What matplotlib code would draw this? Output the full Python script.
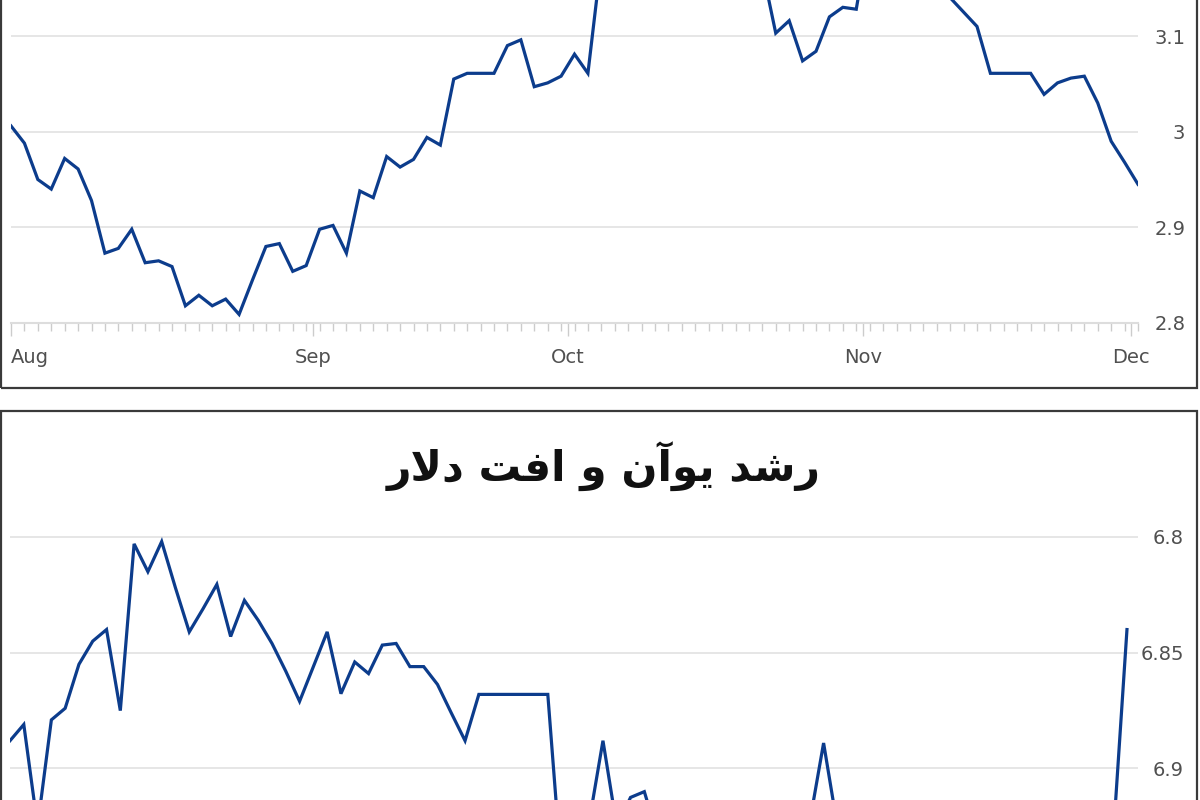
import matplotlib
matplotlib.use("Agg")
import matplotlib.pyplot as plt
from matplotlib.patches import Rectangle

# top chart: daily values from Aug 1 (one per trading day)
yield_vals = [3.006, 2.988, 2.950, 2.940, 2.972, 2.961, 2.928, 2.873, 2.878, 2.898,
              2.863, 2.865, 2.859, 2.818, 2.829, 2.818, 2.825, 2.809, 2.845, 2.880,
              2.883, 2.854, 2.860, 2.898, 2.902, 2.873, 2.938, 2.931, 2.974, 2.963,
              2.971, 2.994, 2.986, 3.055, 3.061, 3.061, 3.061, 3.090, 3.096, 3.047,
              3.051, 3.058, 3.081, 3.061, 3.180, 3.190, 3.230, 3.210, 3.220, 3.160,
              3.160, 3.170, 3.160, 3.190, 3.180, 3.200, 3.170, 3.103, 3.116, 3.074,
              3.084, 3.120, 3.130, 3.128, 3.210, 3.200, 3.210, 3.230, 3.240, 3.190,
              3.140, 3.125, 3.110, 3.061, 3.061, 3.061, 3.061, 3.039, 3.051, 3.056,
              3.058, 3.030, 2.990, 2.968, 2.945]
month_names = ["Aug", "Sep", "Oct", "Nov", "Dec"]
month_pos = [0, 22.5, 41.5, 63.5, 83.5]
yield_ticks = [2.8, 2.9, 3.0, 3.1]
yield_labels = ["2.8", "2.9", "3", "3.1"]

# bottom chart: dollar / yuan, axis reversed
yuan_vals = [6.888, 6.881, 6.925, 6.879, 6.874, 6.855, 6.845, 6.840, 6.875, 6.803,
             6.815, 6.802, 6.822, 6.841, 6.831, 6.8205, 6.843, 6.8274, 6.836, 6.846,
             6.858, 6.871, 6.856, 6.841, 6.8677, 6.854, 6.859, 6.8467, 6.846, 6.856,
             6.856, 6.8637, 6.876, 6.888, 6.868, 6.868, 6.868, 6.868, 6.868, 6.868,
             6.945, 6.940, 6.923, 6.888, 6.925, 6.9125, 6.910, 6.930, 6.935, 6.940,
             6.930, 6.935, 6.945, 6.950, 6.940, 6.935, 6.940, 6.930, 6.923, 6.889,
             6.925, 6.935, 6.940, 6.950, 6.955, 6.960, 6.955, 6.945, 6.950, 6.960,
             6.965, 6.955, 6.950, 6.945, 6.950, 6.955, 6.960, 6.955, 6.950, 6.945,
             6.930, 6.840]
yuan_ticks = [6.8, 6.85, 6.9]
yuan_labels = ["6.8", "6.85", "6.9"]

# "رشد یوآن و افت دلار" written with presentation forms in display order,
# because matplotlib does not shape arabic script itself
title = ("\uFEAD\uFEFB\uFEA9 \uFE96\uFED3\uFE8D \uFEED "
         "\uFEE5\uFE81\uFEEE\uFEF3 \uFEAA\uFEB7\uFEAD")

line_color = "#0c3c8c"
text_color = "#505050"
grid_color = "#e6e6e6"
plt.rcParams["font.family"] = ["DejaVu Sans"]

fig = plt.figure(figsize=(12, 8), dpi=100)

# panel frames
fig.add_artist(Rectangle((1 / 1200, 0.515), 1196 / 1200, 0.6, transform=fig.transFigure,
                         fill=False, ec="#3a3a3a", lw=1.6, clip_on=False))
fig.add_artist(Rectangle((1 / 1200, -0.2), 1196 / 1200, 0.686, transform=fig.transFigure,
                         fill=False, ec="#3a3a3a", lw=1.6, clip_on=False))

# ---- top chart
ax1 = fig.add_axes([11 / 1200, 0.59625, 1127 / 1200, 0.5979])
ax1.plot(range(len(yield_vals)), yield_vals, color=line_color, lw=2.3, solid_joinstyle="miter")
ax1.set_xlim(0, len(yield_vals) - 1)
ax1.set_ylim(2.8, 3.3)
for s in ["top", "left", "right"]:
    ax1.spines[s].set_visible(False)
ax1.spines["bottom"].set_color("#dddddd")
ax1.spines["bottom"].set_linewidth(1.5)
ax1.set_yticks(yield_ticks)
ax1.set_yticklabels(yield_labels)
ax1.yaxis.tick_right()
ax1.tick_params(axis="y", length=0, pad=34, labelsize=14, labelcolor=text_color)
for lab in ax1.get_yticklabels():
    lab.set_horizontalalignment("right")
ax1.grid(axis="y", color=grid_color, lw=1.4)
ax1.set_axisbelow(True)
ax1.set_xticks(month_pos)
ax1.set_xticklabels(month_names)
ax1.set_xticks(range(len(yield_vals)), minor=True)
ax1.tick_params(axis="x", which="major", length=9, width=1, color="#cccccc",
                pad=9, labelsize=14, labelcolor=text_color)
ax1.tick_params(axis="x", which="minor", length=5.5, width=1, color="#cccccc")
ax1.get_xticklabels()[0].set_horizontalalignment("left")

# ---- bottom chart
ax2 = fig.add_axes([10 / 1200, -0.2211, 1128 / 1200, 0.6078])
ax2.plot(range(len(yuan_vals)), yuan_vals, color=line_color, lw=2.3, solid_joinstyle="miter")
ax2.set_xlim(0, 81.8)
ax2.set_ylim(6.99, 6.78)
for s in ax2.spines.values():
    s.set_visible(False)
ax2.set_xticks([])
ax2.set_yticks(yuan_ticks)
ax2.set_yticklabels(yuan_labels)
ax2.yaxis.tick_right()
ax2.tick_params(axis="y", length=0, pad=33, labelsize=14, labelcolor=text_color)
for lab in ax2.get_yticklabels():
    lab.set_horizontalalignment("right")
ax2.grid(axis="y", color=grid_color, lw=1.4)
ax2.set_axisbelow(True)

fig.text(0.503, (800 - 467) / 800, title, ha="center", va="center",
         fontsize=30.5, fontweight="bold", color="#111111", family=["DejaVu Sans"])

fig.savefig("out.png", dpi=100)
